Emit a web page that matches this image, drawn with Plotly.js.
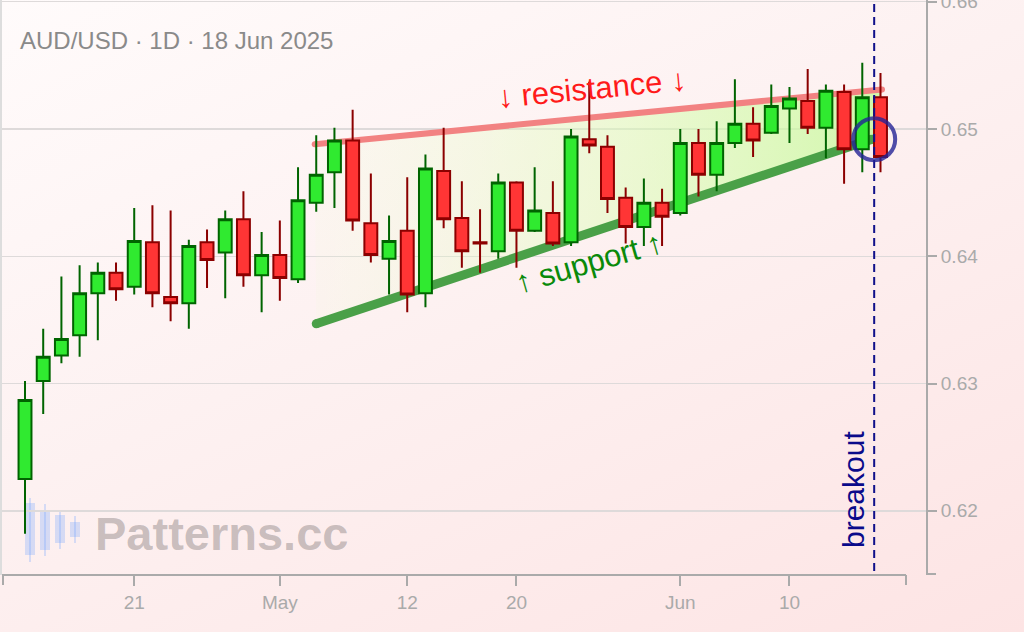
<!DOCTYPE html>
<html><head><meta charset="utf-8">
<script src="https://cdn.plot.ly/plotly-3.0.1.min.js"></script>
<style>
html,body{margin:0;padding:0;width:1024px;height:632px;overflow:hidden;
background:linear-gradient(155deg,#fffbfb 0%,#fdf1f1 45%,#fde4e4 100%);}
#chart{width:1024px;height:632px;}
</style></head><body><div id="chart"></div>
<script>
const dates = ['2025-04-11','2025-04-14','2025-04-15','2025-04-16','2025-04-17','2025-04-18',
'2025-04-21','2025-04-22','2025-04-23','2025-04-24','2025-04-25','2025-04-28','2025-04-29','2025-04-30',
'2025-05-01','2025-05-02','2025-05-05','2025-05-06','2025-05-07','2025-05-08','2025-05-09',
'2025-05-12','2025-05-13','2025-05-14','2025-05-15','2025-05-16','2025-05-19','2025-05-20',
'2025-05-21','2025-05-22','2025-05-23','2025-05-26','2025-05-27','2025-05-28','2025-05-29','2025-05-30',
'2025-06-02','2025-06-03','2025-06-04','2025-06-05','2025-06-06','2025-06-09','2025-06-10',
'2025-06-11','2025-06-12','2025-06-13','2025-06-16','2025-06-17'];
const opens = [0.6225,0.6302,0.6322,0.6338,0.6371,0.6387,
0.6376,0.6411,0.6368,0.6363,0.6411,0.6403,0.6429,0.6385,
0.6401,0.6382,0.6442,0.6466,0.6491,0.6426,0.6398,
0.6420,0.6371,0.6467,0.6430,0.6411,0.6404,0.6458,
0.6420,0.6434,0.6411,0.6492,0.6486,0.6446,0.6423,0.6442,
0.6434,0.6489,0.6464,0.6489,0.6504,0.6497,0.6516,
0.6522,0.6501,0.6529,0.6484,0.6525];
const highs = [0.6302,0.6343,0.6384,0.6393,0.6395,0.6395,
0.6438,0.6440,0.6436,0.6413,0.6421,0.6436,0.6451,0.6419,
0.6428,0.6470,0.6495,0.6501,0.6515,0.6465,0.6432,
0.6462,0.6480,0.6501,0.6459,0.6437,0.6465,0.6459,
0.6470,0.6459,0.6500,0.6537,0.6495,0.6454,0.6461,0.6453,
0.6500,0.6500,0.6506,0.6539,0.6517,0.6535,0.6533,
0.6547,0.6535,0.6535,0.6552,0.6544];
const lows = [0.6182,0.6276,0.6316,0.6321,0.6334,0.6365,
0.6370,0.6360,0.6349,0.6343,0.6375,0.6367,0.6376,0.6356,
0.6365,0.6379,0.6435,0.6438,0.6420,0.6395,0.6370,
0.6356,0.6360,0.6422,0.6391,0.6387,0.6398,0.6391,
0.6419,0.6408,0.6408,0.6481,0.6434,0.6410,0.6408,0.6408,
0.6432,0.6447,0.6451,0.6485,0.6478,0.6496,0.6489,
0.6496,0.6477,0.6457,0.6466,0.6466];
const closes = [0.6287,0.6321,0.6335,0.6371,0.6387,0.6374,
0.6412,0.6371,0.6363,0.6408,0.6397,0.6429,0.6385,0.6401,
0.6383,0.6444,0.6464,0.6491,0.6428,0.6401,0.6412,
0.6370,0.6469,0.6429,0.6404,0.6410,0.6458,0.6420,
0.6436,0.6410,0.6494,0.6487,0.6445,0.6423,0.6442,0.6431,
0.6489,0.6464,0.6489,0.6504,0.6491,0.6518,0.6524,
0.6501,0.6530,0.6484,0.6525,0.6478];

const tickDates = ['2025-04-21','2025-05-01','2025-05-12','2025-05-20','2025-06-02','2025-06-10'];
const tickLabels = ['21','May','12','20','Jun','10'];
const yTicks = [0.62,0.63,0.64,0.65,0.66];
const yTickLabels = ['0.62','0.63','0.64','0.65','0.66'];

const resistanceX = ['2025-05-02 22:00','2025-06-17 02:00'];
const resistanceY = [0.6488,0.6531];
const supportX = ['2025-05-05 00:00','2025-06-16 13:00'];
const supportY = [0.6347,0.6492];
const breakoutX = '2025-06-16 15:40';
const breakoutY = 0.6492;

const titleText = 'AUD/USD · 1D · 18 Jun 2025';

const PL=2, PW=924, PT=0, PH=575;
const px = v => (v-PL)/PW;
const py = v => (PT+PH-v)/PH;

const fillTrace = {
  type:'scatter', mode:'lines', xaxis:'x', yaxis:'y',
  x:[resistanceX[0],resistanceX[1],supportX[1],supportX[0],resistanceX[0]],
  y:[resistanceY[0],resistanceY[1],supportY[1],supportY[0],resistanceY[0]],
  fill:'toself', line:{width:0,color:'rgba(0,0,0,0)'},
  fillgradient:{type:'horizontal',colorscale:[[0,'rgba(235,255,205,0.1)'],[0.5,'rgba(220,255,180,0.45)'],[1,'rgba(195,250,150,0.75)']]},
  hoverinfo:'skip'
};
const resTrace = {type:'scatter',mode:'lines+markers',xaxis:'x',yaxis:'y',x:resistanceX,y:resistanceY,
  line:{color:'#f28282',width:6},marker:{size:6,color:'#f28282'},hoverinfo:'skip'};
const supTrace = {type:'scatter',mode:'lines+markers',xaxis:'x',yaxis:'y',x:supportX,y:supportY,
  line:{color:'#4aa048',width:9},marker:{size:9,color:'#4aa048'},hoverinfo:'skip'};
const candles = {
  type:'candlestick', xaxis:'x2', yaxis:'y', x:dates, open:opens, high:highs, low:lows, close:closes,
  increasing:{line:{color:'#006400',width:2},fillcolor:'#30ea30'},
  decreasing:{line:{color:'#8b0000',width:2},fillcolor:'#ff3535'},
  whiskerwidth:0, hoverinfo:'skip'
};

const iconColor='rgba(110,160,255,0.28)';
const icon=[[30,503,555,498,562],[45,510,550,504,556],[60,515,543,511,549],[75,522,537,516,543]];
const shapes=[];
icon.forEach(c=>{
  shapes.push({type:'line',xref:'paper',yref:'paper',x0:px(c[0]),x1:px(c[0]),y0:py(c[3]),y1:py(c[4]),line:{color:iconColor,width:2},layer:'below'});
  shapes.push({type:'rect',xref:'paper',yref:'paper',x0:px(c[0]-5),x1:px(c[0]+5),y0:py(c[1]),y1:py(c[2]),fillcolor:iconColor,line:{width:0},layer:'below'});
});
shapes.push({type:'line',xref:'paper',yref:'paper',x0:px(1),x1:px(1),y0:0,y1:1,line:{color:'#dddddd',width:2},layer:'below'});
shapes.push({type:'line',xref:'paper',yref:'paper',x0:px(2),x1:px(906),y0:0,y1:0,line:{color:'#aaaaaa',width:2}});
shapes.push({type:'line',xref:'paper',yref:'paper',x0:px(3),x1:px(3),y0:0,y1:py(585),line:{color:'#aaaaaa',width:2}});
shapes.push({type:'line',xref:'paper',yref:'paper',x0:px(906),x1:px(906),y0:0,y1:py(585),line:{color:'#aaaaaa',width:2}});
shapes.push({type:'line',xref:'paper',yref:'paper',x0:px(926),x1:px(936),y0:py(574),y1:py(574),line:{color:'#aaaaaa',width:2}});
shapes.push({type:'line',xref:'x',yref:'paper',x0:breakoutX,x1:breakoutX,y0:py(571),y1:1,line:{color:'#10108a',width:2,dash:'8px,5px'}});
shapes.push({type:'circle',xref:'x',yref:'y',xsizemode:'pixel',ysizemode:'pixel',xanchor:breakoutX,yanchor:breakoutY,
  x0:-21,x1:21,y0:-21,y1:21,line:{color:'rgba(35,35,150,0.8)',width:4}});

const annotations=[
  {xref:'paper',yref:'paper',x:px(592),y:py(88),text:'↓ resistance ↓',showarrow:false,textangle:-5.5,
   font:{size:31,color:'#ff1a1a'},xanchor:'center',yanchor:'middle'},
  {xref:'paper',yref:'paper',x:px(589),y:py(262),text:'↑ support ↑',showarrow:false,textangle:-16,
   font:{size:31,color:'#0a8a0a'},xanchor:'center',yanchor:'middle'},
  {xref:'paper',yref:'paper',x:px(853),y:py(490),text:'breakout',showarrow:false,textangle:-90,
   font:{size:30,color:'#0a0a8a'},xanchor:'center',yanchor:'middle'},
  {xref:'paper',yref:'paper',x:px(93),y:py(533),text:'<b>Patterns.cc</b>',showarrow:false,
   font:{size:47,color:'rgba(128,120,120,0.42)'},xanchor:'left',yanchor:'middle'}
];

const xRange=['2025-04-09 17:40','2025-06-19 12:00'];
const layout={
  width:1024,height:632,
  margin:{l:PL,r:1024-PL-PW,t:PT,b:632-PT-PH,pad:0},
  paper_bgcolor:'rgba(0,0,0,0)',plot_bgcolor:'rgba(0,0,0,0)',
  showlegend:false,hovermode:false,
  boxgap:0.29,boxgroupgap:0,
  font:{family:'"Liberation Sans", Arial, sans-serif'},
  title:{text:titleText,xref:'container',yref:'container',x:20/1024,xanchor:'left',y:1-41/632,yanchor:'middle',
    font:{size:24,color:'#8a8a8a'}},
  xaxis:{type:'date',range:xRange,rangebreaks:[{bounds:['sat','mon']}],
    tickmode:'array',tickvals:tickDates,ticktext:tickLabels,ticks:'outside',ticklen:10,tickwidth:2,tickcolor:'#aaaaaa',
    showgrid:false,showline:false,zeroline:false,rangeslider:{visible:false},tickfont:{size:19,color:'#aaaaaa'},fixedrange:true},
  xaxis2:{type:'date',range:xRange,rangebreaks:[{bounds:['sat','mon']}],overlaying:'x',anchor:'y',side:'bottom',
    showticklabels:false,ticks:'',showline:false,showgrid:false,zeroline:false,rangeslider:{visible:false},fixedrange:true},
  yaxis:{side:'right',range:[0.61496,0.66013],tickmode:'array',tickvals:yTicks,ticktext:yTickLabels,
    ticks:'outside',ticklen:9,tickwidth:2,tickcolor:'#aaaaaa',showline:true,linecolor:'#aaaaaa',linewidth:2,
    showgrid:true,gridcolor:'#dedada',gridwidth:1.5,zeroline:false,tickfont:{size:19,color:'#aaaaaa'},
    ticklabeloverflow:'allow',fixedrange:true},
  shapes:shapes,annotations:annotations
};
Plotly.newPlot('chart',[fillTrace,resTrace,supTrace,candles],layout,{staticPlot:true,displayModeBar:false});
</script></body></html>
